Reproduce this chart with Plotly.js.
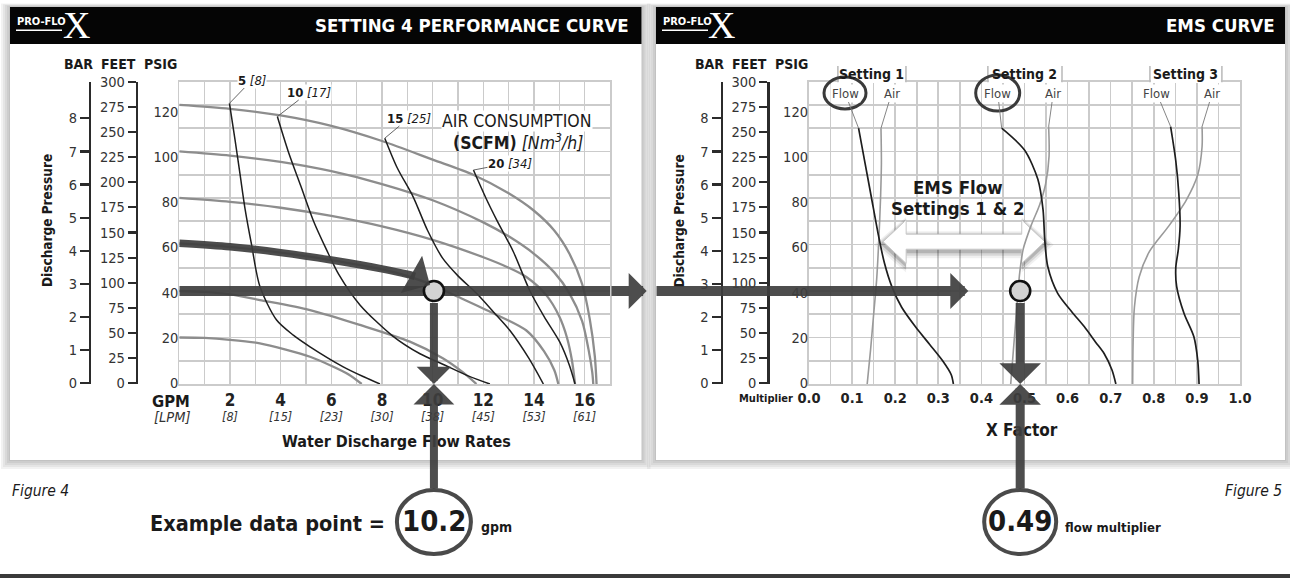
<!DOCTYPE html>
<html><head><meta charset="utf-8">
<script src="https://cdn.plot.ly/plotly-3.0.1.min.js"></script>
<style>html,body{margin:0;padding:0;background:#fff;}#chart{width:1290px;height:581px;}</style>
</head><body><div id="chart"></div>
<script>
// ---------------- DATA ----------------
const psiTicks  = [0,20,40,60,80,100,120];
const barTicks  = [0,1,2,3,4,5,6,7,8];
const feetTicks = [0,25,50,75,100,125,150,175,200,225,250,275,300];
const gpmTicks  = [2,4,6,8,10,12,14,16];
const lpmLabels = ['[8]','[15]','[23]','[30]','[38]','[45]','[53]','[61]'];
const multTicks = [0,0.1,0.2,0.3,0.4,0.5,0.6,0.7,0.8,0.9,1.0];
const multLabels= ['0.0','0.1','0.2','0.3','0.4','0.5','0.6','0.7','0.8','0.9','1.0'];

// Figure 4: discharge pressure curves (gpm, psig)
const psi120Flow = [0,2,4,6,8,10,11.6,13,14,14.8,15.4,15.9,16.2,16.4,16.47];
const psi120Pres = [120,118.3,115.5,111,104.5,96.5,90,82,74.5,66,56,43,28,12,0];
const psi100Flow = [0,2,4,6,8,10,12,13,14,14.8,15.4,15.9,16.15,16.3,16.34];
const psi100Pres = [100,98.2,95.5,91.5,86,79,69.5,63.5,56,48,39,27,15,5,0];
const psi80Flow  = [0,2,4,6,8,10,12,13,13.7,14.5,15,15.3,15.5,15.62];
const psi80Pres  = [80,78.3,75.8,72.3,67.8,62,54.5,50,46,38,29,20,10,0];
const psi60Flow  = [0,2,4,6,8,9,10,11,12.4,13.7,14.4,14.8,14.96];
const psi60Pres  = [60.5,59,56.5,53.3,49.3,46.5,42.5,37.5,30.4,23,14,6,0];
const psi40Flow  = [0,1,2,3.18,5.16,7.13,9.1,10.4,11.2,11.73];
const psi40Pres  = [40,39.6,38.5,36.1,31.8,25.4,18.2,11.1,5,0];
const psi20Flow  = [0,1,2,3.18,4.2,5.16,6.08,6.7,7.2];
const psi20Pres  = [20,19.8,19,17.5,14.8,11.7,7.4,4,0];

// Figure 4: air consumption curves (gpm, psig)
const scfmValues = ['5','10','15','20'];
const nm3hValues = ['[8]','[17]','[25]','[34]'];
const scfm5Flow  = [1.98,2.2,2.4,2.6,2.85,3.18,3.84,4.5,5.16,6.47,7.3,7.92];
const scfm5Pres  = [120.7,105,90,75,60,42,27.5,21,16,7.4,3,0];
const scfm10Flow = [3.87,4.3,4.8,5.3,5.8,6.3,7.13,8.44,9.5,10.4,11.4,12.26];
const scfm10Pres = [115,100,85,70,58,47,34,20.5,13,8.5,3.5,0];
const scfm15Flow = [8.11,8.6,9.23,9.8,10.4,11.0,11.73,12.4,13.05,13.8,14.37];
const scfm15Pres = [105.7,93,80.5,66,54,46.5,39,31,23,11,0];
const scfm20Flow = [11.61,12.1,12.53,13.18,13.84,14.4,15.02,15.4,15.62];
const scfm20Pres = [92,80,70.5,57,40,29,18,8,0];

// highlighted 60 psig path and example point
const pathFlow = [0,2,4,6,8,9,9.3];
const pathPres = [60.5,59,56.5,53.3,49.5,47.2,46.3];
const exampleGpm = 10.05, examplePsi = 40, exampleGpmText = '10.2';
const exampleMult = 0.49, exampleMultText = '0.49';

// Figure 5: EMS curves (x factor, psig)
const s1FlowX = [0.115,0.13,0.145,0.16,0.175,0.192,0.215,0.247,0.28,0.31,0.33,0.335];
const s1FlowY = [110,95,80,65,52,42,33,24.6,17,10,4,0];
const s1AirX  = [0.167,0.168,0.166,0.162,0.157,0.15,0.143,0.135];
const s1AirY  = [110,95,80,62,45,30,15,0];
const s2FlowX = [0.447,0.5,0.531,0.543,0.547,0.554,0.577,0.61,0.639,0.665,0.685,0.703,0.712];
const s2FlowY = [110,100.6,88,75,62,50.5,39,31,24.6,18,13,6,0];
const s2AirX  = [0.556,0.557,0.549,0.535,0.515,0.497,0.489,0.485,0.48,0.474,0.468];
const s2AirY  = [110.7,98,86,77,68,58,48,40,28,14,0];
const s3FlowX = [0.839,0.851,0.858,0.861,0.857,0.851,0.853,0.87,0.893,0.902,0.905];
const s3FlowY = [110.7,96,82,68,58,50,42,30.4,20.3,10,0];
const s3AirX  = [0.912,0.912,0.902,0.875,0.835,0.79,0.766,0.755,0.752,0.751];
const s3AirY  = [110.7,102,90,79,68,57,46,33,18,0];
const settingNames = ['Setting 1','Setting 2','Setting 3'];

// ---------------- FRAME ----------------
const W = 1290, H = 581;
const FONT = '"Liberation Sans Narrow","DejaVu Sans Condensed","Arial Narrow",sans-serif';
const px = v => v / W, py = v => 1 - v / H;
const LPLOT = [179.3, 610], RPLOT = [809, 1240], PY = [81.7, 384];
const gpmRange = [0,17], multRange = [0,1], psiRange = [0,130];
const xL = v => LPLOT[0] + (v-gpmRange[0])/(gpmRange[1]-gpmRange[0])*(LPLOT[1]-LPLOT[0]);
const xR = v => RPLOT[0] + (v-multRange[0])/(multRange[1]-multRange[0])*(RPLOT[1]-RPLOT[0]);
const yP = v => PY[1] - (v-psiRange[0])/(psiRange[1]-psiRange[0])*(PY[1]-PY[0]);
const gL = p => gpmRange[0] + (p-LPLOT[0])/(LPLOT[1]-LPLOT[0])*(gpmRange[1]-gpmRange[0]);
const gR = p => multRange[0] + (p-RPLOT[0])/(RPLOT[1]-RPLOT[0])*(multRange[1]-multRange[0]);
const gP = p => psiRange[0] + (PY[1]-p)/(PY[1]-PY[0])*(psiRange[1]-psiRange[0]);
const OFF = 631.5; // right panel offset

const ARROW = 'rgba(62,62,62,0.92)';
const GRAYC = '#8d8d8d', BLACKC = '#1e1e1e';

// ---------------- TRACES ----------------
const traces = [];
function curve(x,y,xa,ya,color,width){
  traces.push({type:'scatter',mode:'lines',x,y,xaxis:xa,yaxis:ya,
    line:{color,width,shape:'spline',smoothing:0.8},hoverinfo:'skip',showlegend:false});
}
[[psi120Flow,psi120Pres],[psi100Flow,psi100Pres],[psi80Flow,psi80Pres],
 [psi60Flow,psi60Pres],[psi40Flow,psi40Pres],[psi20Flow,psi20Pres]]
 .forEach(c=>curve(c[0],c[1],'x','y',GRAYC,2.3));
[[scfm5Flow,scfm5Pres],[scfm10Flow,scfm10Pres],[scfm15Flow,scfm15Pres],[scfm20Flow,scfm20Pres]]
 .forEach(c=>curve(c[0],c[1],'x','y',BLACKC,1.5));
[[s1AirX,s1AirY],[s2AirX,s2AirY],[s3AirX,s3AirY]].forEach(c=>curve(c[0],c[1],'x2','y2','#9a9a9a',1.6));
[[s1FlowX,s1FlowY],[s2FlowX,s2FlowY],[s3FlowX,s3FlowY]].forEach(c=>curve(c[0],c[1],'x2','y2',BLACKC,1.7));
// highlighted path and 40 psig line (in plot)
curve(pathFlow,pathPres,'x','y',ARROW,7.5);
traces.push({type:'scatter',mode:'lines',x:gpmRange,y:[examplePsi,examplePsi],xaxis:'x',yaxis:'y',
  line:{color:ARROW,width:10},hoverinfo:'skip',showlegend:false});
// example points
[[exampleGpm,'x','y'],[exampleMult,'x2','y2']].forEach(p=>traces.push({type:'scatter',mode:'markers',
  x:[p[0]],y:[examplePsi],xaxis:p[1],yaxis:p[2],cliponaxis:false,hoverinfo:'skip',showlegend:false,
  marker:{size:20,color:'#d3d3d3',line:{color:'#111',width:2.6}}}));
// dummy traces for label axes
[['x3','y'],['x5','y'],['x4','y2'],['x','y3'],['x','y5'],['x','y6'],['x2','y4'],['x2','y7'],['x2','y8']]
 .forEach(a=>traces.push({type:'scatter',mode:'markers',x:[null],y:[null],xaxis:a[0],yaxis:a[1],hoverinfo:'skip',showlegend:false}));

// ---------------- AXES ----------------
const grid = {showgrid:true,gridcolor:'#cbcbcb',gridwidth:1.6,zeroline:false,showline:true,linecolor:'#cbcbcb',
  linewidth:1.6,mirror:true,ticks:'',showticklabels:false,tickmode:'linear',tick0:0,fixedrange:true};
const lab = {showgrid:false,zeroline:false,showline:false,ticks:'',fixedrange:true,tickmode:'array'};
const tickF = {family:FONT,size:14.5,color:'#333'};
function barAxis(over,pos){return {overlaying:over,anchor:'free',position:px(pos),side:'left',range:[-0.021,9.105],
  tickmode:'array',tickvals:barTicks,ticks:'outside',ticklen:9,tickwidth:2.2,tickcolor:'#2b2b2b',showline:true,
  linecolor:'#2b2b2b',linewidth:2.4,showgrid:false,zeroline:false,tickfont:tickF,fixedrange:true};}
function feetAxis(over,pos){return {overlaying:over,anchor:'free',position:px(pos),side:'left',range:[-0.696,300],
  tickmode:'array',tickvals:feetTicks,ticks:'outside',ticklen:8,tickwidth:2.2,tickcolor:'#2b2b2b',showline:true,
  linecolor:'#2b2b2b',linewidth:2.4,showgrid:false,zeroline:false,tickfont:tickF,fixedrange:true};}
function psiAxis(over,anc){return Object.assign({},lab,{overlaying:over,anchor:anc,side:'left',range:[-0.44,133.27],
  tickvals:psiTicks,tickfont:tickF,ticklabelstandoff:0});}

const layout = {
  width:W,height:H,margin:{l:0,r:0,t:0,b:0},paper_bgcolor:'#fff',plot_bgcolor:'rgba(0,0,0,0)',
  showlegend:false,font:{family:FONT,color:'#222'},
  xaxis:Object.assign({},grid,{domain:[px(LPLOT[0]),px(LPLOT[1])],range:gpmRange,dtick:1,anchor:'y'}),
  yaxis:Object.assign({},grid,{domain:[py(PY[1]),py(PY[0])],range:psiRange,dtick:10,anchor:'x'}),
  xaxis2:Object.assign({},grid,{domain:[px(RPLOT[0]),px(RPLOT[1])],range:multRange,dtick:0.05,anchor:'y2'}),
  yaxis2:Object.assign({},grid,{domain:[py(PY[1]),py(PY[0])],range:psiRange,dtick:10,anchor:'x2'}),
  xaxis3:Object.assign({},lab,{overlaying:'x',anchor:'y',range:gpmRange,tickvals:gpmTicks,
    ticktext:gpmTicks.map(v=>'<b>'+v+'</b>'),tickfont:{family:FONT,size:17,color:'#222'},ticklabelstandoff:4}),
  xaxis5:Object.assign({},lab,{overlaying:'x',anchor:'y',range:gpmRange,tickvals:gpmTicks,
    ticktext:lpmLabels.map(v=>'<i>'+v+'</i>'),tickfont:{family:FONT,size:12.5,color:'#333'},ticklabelstandoff:23}),
  xaxis4:Object.assign({},lab,{overlaying:'x2',anchor:'y2',range:multRange,tickvals:multTicks,
    ticktext:multLabels.map(v=>'<b>'+v+'</b>'),tickfont:{family:FONT,size:14.5,color:'#222'},ticklabelstandoff:3}),
  yaxis3:psiAxis('y','x'),
  yaxis4:psiAxis('y2','x2'),
  yaxis5:barAxis('y',90),
  yaxis6:feetAxis('y',136.7),
  yaxis7:barAxis('y2',90+OFF),
  yaxis8:feetAxis('y2',136.7+OFF)
};

// ---------------- SHAPES ----------------
const shapes = [];
function rectPx(x0,y0,x1,y1,fill,layer,line){shapes.push({type:'rect',xref:'paper',yref:'paper',x0:px(x0),x1:px(x1),
  y0:py(y1),y1:py(y0),fillcolor:fill,line:line||{width:0},layer:layer||'below'});}
const cards = [[10,7,641.5,460],[656,7,1285,460]];
cards.forEach(c=>{for(let i=9;i>=1;i-=2) rectPx(c[0]-i,c[1]-i*0.4,c[2]+i,c[3]+i,'rgba(0,0,0,0.05)');});
cards.forEach(c=>{rectPx(c[0],c[1],c[2],c[3],'#ffffff'); rectPx(c[0],c[1],c[2],44,'#050505');});
rectPx(0,574,W,578,'#3a3a3a');
// logo underline
[0,646].forEach(o=>rectPx(16+o,29.5,62+o,31,'#fff'));
// setting tabs
const tabs = [[0.067,0.225],[0.415,0.587],[0.791,0.958]];
tabs.forEach(t=>{
  rectPx(xR(t[0])+1,62,xR(t[1])-1,83,'#ffffff','above');
  [t[0],t[1]].forEach(v=>shapes.push({type:'line',xref:'paper',yref:'paper',x0:px(xR(v)),x1:px(xR(v)),
    y0:py(66),y1:py(PY[0]+0.5),line:{color:'#bdbdbd',width:1.6},layer:'above'}));
});
// ellipses
function ell(cx,cy,rx,ry,color,w,fill){shapes.push({type:'circle',xref:'paper',yref:'paper',x0:px(cx-rx),x1:px(cx+rx),
  y0:py(cy+ry),y1:py(cy-ry),line:{color,width:w},fillcolor:fill||'rgba(0,0,0,0)',layer:'above'});}
ell(845,93,21,16,'#3a3a3a',3);
ell(997.7,93,22,18,'#3a3a3a',3);
ell(xL(exampleGpm),522,37,32,'#4a4a4a',4,'#fff');
ell(xR(exampleMult),522,36,32,'#4a4a4a',4,'#fff');
// EMS double arrow (white with soft shadow), drawn between grid and traces
function emsPath(dx,dy,grow){
  const y=241.7+dy, a=xR(0.172)+dx, b=xR(0.547)+dx, hl=23, hh=21.7+grow, sh=7.5+grow;
  const pts=[[a-grow*1.5,y],[a+hl,y-hh],[a+hl,y-sh],[b-hl,y-sh],[b-hl,y-hh],[b+grow*1.5,y],[b-hl,y+hh],[b-hl,y+sh],[a+hl,y+sh],[a+hl,y+hh]];
  return 'M'+pts.map(p=>gR(p[0])+','+gP(p[1])).join('L')+'Z';
}
shapes.push({type:'path',xref:'x2',yref:'y2',path:emsPath(0,3,6),fillcolor:'rgba(0,0,0,0.06)',line:{width:0},layer:'between'});
shapes.push({type:'path',xref:'x2',yref:'y2',path:emsPath(0,2.5,4),fillcolor:'rgba(0,0,0,0.10)',line:{width:0},layer:'between'});
shapes.push({type:'path',xref:'x2',yref:'y2',path:emsPath(0,2,2),fillcolor:'rgba(0,0,0,0.16)',line:{width:0},layer:'between'});
shapes.push({type:'path',xref:'x2',yref:'y2',path:emsPath(0,0,0),fillcolor:'#ffffff',line:{color:'#c9c9c9',width:1},layer:'between'});
layout.shapes = shapes;

// ---------------- ANNOTATIONS ----------------
const anns = [];
function txt(text,x,y,size,opt){anns.push(Object.assign({xref:'paper',yref:'paper',x:px(x),y:py(y),text,showarrow:false,
  xanchor:'center',yanchor:'middle',font:{family:FONT,size,color:'#1a1a1a'}},opt||{}));}
// headers
txt('<b>SETTING 4 PERFORMANCE CURVE</b>',631,25,18.5,{xanchor:'right',font:{family:FONT,size:18.5,color:'#fff'}});
txt('<b>EMS CURVE</b>',1277,25,18.5,{xanchor:'right',font:{family:FONT,size:18.5,color:'#fff'}});
[0,646].forEach(o=>{
  txt('<b>PRO-FLO</b>',15+o,22,11,{xanchor:'left',font:{family:FONT,size:11,color:'#fff'}});
  txt('X',76+o,25,38,{font:{family:'"Liberation Serif","DejaVu Serif",serif',size:38,color:'#fff'}});
});
// axis headers
[0,OFF].forEach(o=>{
  txt('<b>BAR</b>',78+o,64,14); txt('<b>FEET</b>',118+o,64,14); txt('<b>PSIG</b>',160+o,64,14);
  txt('<b>Discharge Pressure</b>',47+o,221,13.5,{textangle:-90});
});
txt('<b>GPM</b>',170.5,401.5,16.5); txt('<i>[LPM]</i>',172,416.5,14.5,{font:{family:FONT,size:14.5,color:'#333'}});
txt('<b>Water Discharge Flow Rates</b>',396,441.5,16);
txt('<b>Multiplier</b>',795,398,11,{xanchor:'right'});
txt('<b>X Factor</b>',1022,430,17);
txt('AIR CONSUMPTION',516.7,121.2,17.5,{bgcolor:'#fff',borderpad:0});
txt('<b>(SCFM)</b> <i>[Nm<sup>3</sup>/h]</i>',517.5,141.5,17.5,{bgcolor:'rgba(255,255,255,0)',borderpad:0});
txt('<b>EMS Flow</b>',958,187,18.5); txt('<b>Settings 1 &amp; 2</b>',958,208.5,18.5);
tabs.forEach((t,i)=>txt('<b>'+settingNames[i]+'</b>',(xR(t[0])+xR(t[1]))/2,74,14));
txt('<i>Figure 4</i>',10,491,15.5,{xanchor:'left'});
txt('<i>Figure 5</i>',1284,491,15.5,{xanchor:'right'});
txt('<b>Example data point =</b>',387,523,21.5,{xanchor:'right'});
txt('<b>'+exampleGpmText+'</b>',xL(exampleGpm),521,29);
txt('<b>gpm</b>',479,527,14,{xanchor:'left'});
txt('<b>'+exampleMultText+'</b>',xR(exampleMult),521,29);
txt('<b>flow multiplier</b>',1063,527,13,{xanchor:'left'});

// leader-line labels
const scfmLabelPx = [[252,80],[309,92],[409,118],[510,163]];
const scfmStart = [[scfm5Flow[0],scfm5Pres[0]],[scfm10Flow[0],scfm10Pres[0]],[scfm15Flow[0],scfm15Pres[0]],[scfm20Flow[0],scfm20Pres[0]]];
scfmValues.forEach((v,i)=>anns.push({xref:'x',yref:'y',axref:'x',ayref:'y',x:scfmStart[i][0],y:scfmStart[i][1],
  ax:gL(scfmLabelPx[i][0]),ay:gP(scfmLabelPx[i][1]),text:'<b>'+v+'</b> <i>'+nm3hValues[i]+'</i>',showarrow:true,
  arrowhead:0,arrowwidth:0.9,arrowcolor:'#555',bgcolor:'#fff',borderpad:0,standoff:0,
  font:{family:FONT,size:13,color:'#1a1a1a'}}));
const emsLabelPx = [845,891.7,997.7,1053.3,1156.7,1212.3];
const emsStarts = [[s1FlowX[0],s1FlowY[0]],[s1AirX[0],s1AirY[0]],[s2FlowX[0],s2FlowY[0]],[s2AirX[0],s2AirY[0]],[s3FlowX[0],s3FlowY[0]],[s3AirX[0],s3AirY[0]]];
emsLabelPx.forEach((p,i)=>anns.push({xref:'x2',yref:'y2',axref:'x2',ayref:'y2',x:emsStarts[i][0],y:emsStarts[i][1],
  ax:gR(p),ay:gP(93),text:i%2===0?'Flow':'Air',showarrow:true,arrowhead:0,arrowwidth:0.9,arrowcolor:'#777',
  bgcolor:'#fff',borderpad:1,standoff:0,font:{family:FONT,size:13,color:'#444'}}));

// arrows
function arrow(xr,yr,x0,y0,x1,y1,w,s){anns.push({xref:xr,yref:yr,axref:xr,ayref:yr,ax:x0,ay:y0,x:x1,y:y1,text:'',
  showarrow:true,arrowhead:1,arrowsize:s,arrowwidth:w,arrowcolor:ARROW,standoff:0,startstandoff:0});}
arrow('x','y',gpmRange[1],examplePsi,gL(646.7),examplePsi,10,0.6);
arrow('x2','y2',gR(655),examplePsi,gR(968.3),examplePsi,10,0.6);
arrow('x','y',pathFlow[pathFlow.length-1],pathPres[pathPres.length-1],gL(430),gP(285),7.5,0.95);
arrow('x','y',exampleGpm,examplePsi-10.5/2.325,exampleGpm,0,8,0.72);
arrow('x','y',exampleGpm,gP(490),exampleGpm,0,8,0.85);
arrow('x2','y2',exampleMult,examplePsi-10.5/2.325,exampleMult,0,9,0.77);
arrow('x2','y2',exampleMult,gP(490),exampleMult,0,9,0.77);
layout.annotations = anns;

Plotly.newPlot('chart',traces,layout,{staticPlot:true});
</script></body></html>
